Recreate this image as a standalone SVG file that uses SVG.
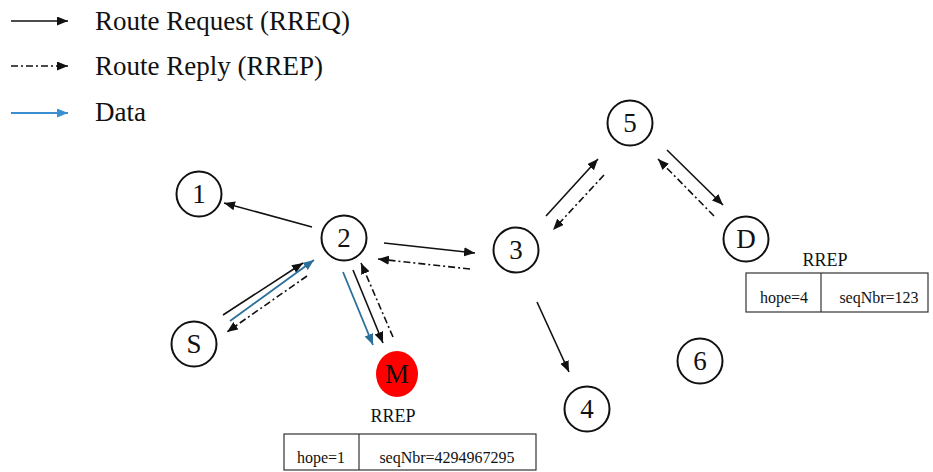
<svg xmlns="http://www.w3.org/2000/svg" width="933" height="472" viewBox="0 0 933 472">
<style>
text{font-family:"Liberation Serif","Times New Roman",serif;fill:#111}
.lg{font-size:27px}
.nd circle{fill:#fff;stroke:#111;stroke-width:2}
.nl{font-size:27px;text-anchor:middle}
.s{stroke:#111;stroke-width:1.6;fill:none;marker-end:url(#ak)}
.d{stroke:#111;stroke-width:1.6;fill:none;stroke-dasharray:7 3 2 3;marker-end:url(#ak)}
.b{stroke:#2b6f9a;stroke-width:1.8;fill:none;marker-end:url(#ab)}
.bl{stroke:#3b8fd0;stroke-width:2;fill:none;marker-end:url(#abl)}
.box{fill:#fff;stroke:#333;stroke-width:1.2}
.bt{font-size:16px;text-anchor:middle}
.rr{font-size:18px;text-anchor:middle}
</style>
<defs>
<marker id="ak" markerUnits="userSpaceOnUse" markerWidth="12" markerHeight="10" refX="11" refY="4.5" orient="auto"><path d="M0,0 L11,4.5 L0,9 Z" fill="#111"/></marker>
<marker id="ab" markerUnits="userSpaceOnUse" markerWidth="12" markerHeight="10" refX="11" refY="4.5" orient="auto"><path d="M0,0 L11,4.5 L0,9 Z" fill="#2b6f9a"/></marker>
<marker id="abl" markerUnits="userSpaceOnUse" markerWidth="12" markerHeight="10" refX="11" refY="4.5" orient="auto"><path d="M0,0 L11,4.5 L0,9 Z" fill="#3b8fd0"/></marker>
</defs>
<g id="legend">
<line class="s" x1="11" y1="21" x2="68" y2="21"/>
<text class="lg" x="95" y="30">Route Request (RREQ)</text>
<line class="d" x1="11" y1="66" x2="68" y2="66"/>
<text class="lg" x="95" y="75">Route Reply (RREP)</text>
<line class="bl" x1="11" y1="113" x2="68" y2="113"/>
<text class="lg" x="95" y="121">Data</text>
</g>
<g id="connectors">
<line class="s" x1="312" y1="227" x2="224" y2="203"/>
<line class="s" x1="384" y1="243" x2="475" y2="253"/>
<line class="d" x1="470" y1="269" x2="378" y2="259"/>
<line class="s" x1="223" y1="315" x2="303" y2="263"/>
<line class="b" x1="230" y1="321" x2="314" y2="260"/>
<line class="d" x1="307" y1="276" x2="227" y2="332"/>
<line class="b" x1="343" y1="272" x2="373" y2="345"/>
<line class="s" x1="353" y1="270" x2="383" y2="343"/>
<line class="d" x1="393" y1="337" x2="361" y2="263"/>
<line class="s" x1="546" y1="216" x2="598" y2="159"/>
<line class="d" x1="604" y1="175" x2="553" y2="230"/>
<line class="s" x1="667" y1="150" x2="723" y2="205"/>
<line class="d" x1="714" y1="216" x2="658" y2="159"/>
<line class="s" x1="537" y1="302" x2="569" y2="372"/>
</g>
<g id="node-1" class="nd"><circle cx="199" cy="194" r="22.5"/><text class="nl" x="199" y="203">1</text></g>
<g id="node-2" class="nd"><circle cx="344" cy="238" r="22.5"/><text class="nl" x="344" y="247">2</text></g>
<g id="node-3" class="nd"><circle cx="516" cy="250" r="22.5"/><text class="nl" x="516" y="259">3</text></g>
<g id="node-5" class="nd"><circle cx="630" cy="123" r="22.5"/><text class="nl" x="630" y="132">5</text></g>
<g id="node-D" class="nd"><circle cx="746" cy="239" r="22.5"/><text class="nl" x="746" y="248">D</text></g>
<g id="node-S" class="nd"><circle cx="194" cy="344" r="22.5"/><text class="nl" x="194" y="353">S</text></g>
<g id="node-4" class="nd"><circle cx="587" cy="409" r="22.5"/><text class="nl" x="587" y="418">4</text></g>
<g id="node-6" class="nd"><circle cx="700" cy="361" r="22.5"/><text class="nl" x="700" y="370">6</text></g>
<g id="node-M"><ellipse cx="397" cy="374" rx="21" ry="23" fill="#ff0000"/><text class="nl" x="397" y="383">M</text></g>
<g id="rrep-M">
<text class="rr" x="393" y="422">RREP</text>
<rect class="box" x="284" y="434" width="252" height="36"/>
<line class="box" x1="359" y1="434" x2="359" y2="470"/>
<text class="bt" x="321" y="463">hope=1</text>
<text class="bt" x="447" y="463">seqNbr=4294967295</text>
</g>
<g id="rrep-D">
<text class="rr" x="825" y="266">RREP</text>
<rect class="box" x="746" y="273" width="182" height="39"/>
<line class="box" x1="821" y1="273" x2="821" y2="312"/>
<text class="bt" x="784" y="303">hope=4</text>
<text class="bt" x="879" y="303">seqNbr=123</text>
</g>
</svg>
